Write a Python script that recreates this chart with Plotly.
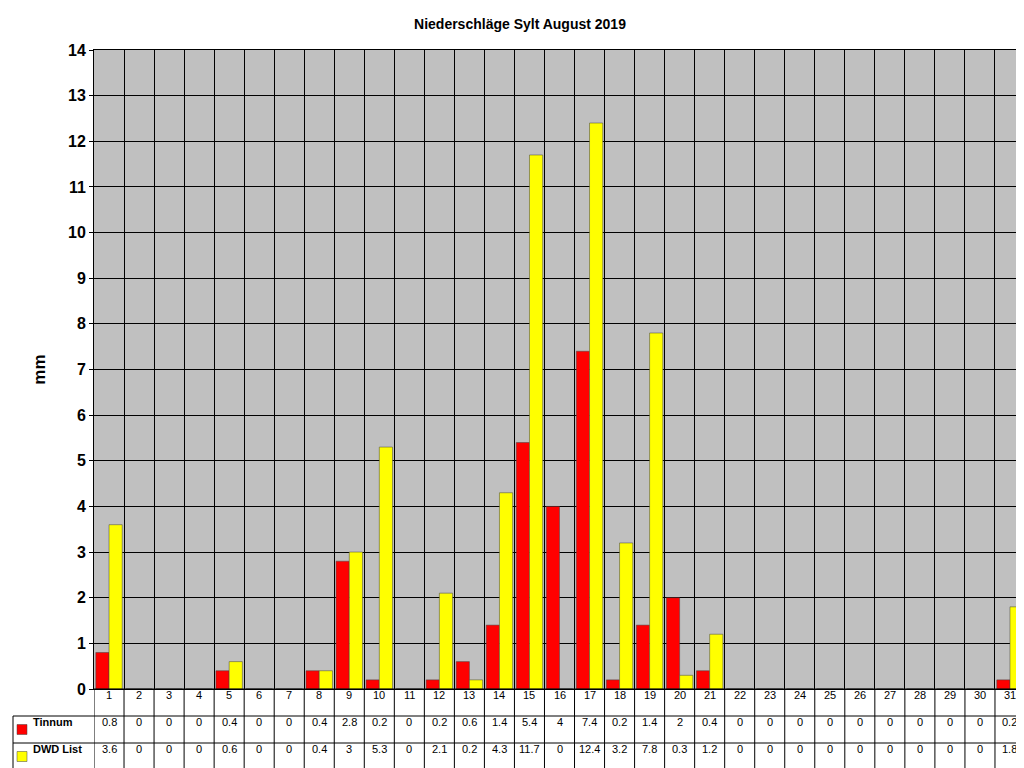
import plotly.graph_objects as go

# Daily precipitation, Sylt, August 2019
days = list(range(1, 32))
tinnum = [0.8, 0, 0, 0, 0.4, 0, 0, 0.4, 2.8, 0.2, 0, 0.2, 0.6, 1.4, 5.4, 4,
          7.4, 0.2, 1.4, 2, 0.4, 0, 0, 0, 0, 0, 0, 0, 0, 0, 0.2]
dwd_list = [3.6, 0, 0, 0, 0.6, 0, 0, 0.4, 3, 5.3, 0, 2.1, 0.2, 4.3, 11.7, 0,
            12.4, 3.2, 7.8, 0.3, 1.2, 0, 0, 0, 0, 0, 0, 0, 0, 0, 1.8]
series = [("Tinnum", tinnum, "#FF0000"), ("DWD List", dwd_list, "#FFFF00")]

FONT = "Liberation Sans, Arial, sans-serif"
L, R, T, B = 86, 7, 42, 87
W, H = 1024, 768
ph = H - T - B
pw = W - L - R

def py(p):  # pixel y -> paper y
    return (H - B - p) / ph

def px(p):  # pixel x -> paper x
    return (p - L) / pw

fig = go.Figure()
for name, vals, col in series:
    fig.add_trace(go.Bar(x=days, y=vals, name=name, marker_color=col,
                         marker_line_color="#404040", marker_line_width=0.5))

shapes, annos = [], []
rows = [681, 708, 735, 762]
for r in rows:
    x0 = 0.5 if r == 681 else None
    shapes.append(dict(type="line", xref="paper", yref="paper",
                       x0=px(5) if r != 681 else 0, x1=1, y0=py(r), y1=py(r),
                       line=dict(color="black", width=1)))
shapes.append(dict(type="line", xref="paper", yref="paper", x0=px(5), x1=px(5),
                   y0=py(708), y1=py(762), line=dict(color="black", width=1)))
for b in range(32):
    shapes.append(dict(type="line", xref="x", yref="paper", x0=b + 0.5, x1=b + 0.5,
                       y0=py(681), y1=py(762), line=dict(color="black", width=1)))

for d in days:
    annos.append(dict(x=d, y=py(694.5), xref="x", yref="paper", text=str(d),
                      showarrow=False, font=dict(size=11, family=FONT, color="black")))
for i, (name, vals, col) in enumerate(series):
    yc = py(721.5 + 27 * i)
    for d, v in zip(days, vals):
        annos.append(dict(x=d, y=yc, xref="x", yref="paper", text=f"{v:g}",
                          showarrow=False, font=dict(size=11, family=FONT, color="black")))
    shapes.append(dict(type="rect", xref="paper", yref="paper", x0=px(9), x1=px(19),
                       y0=yc - 5 / ph, y1=yc + 5 / ph, fillcolor=col,
                       line=dict(color="#404040", width=0.5)))
    annos.append(dict(x=px(23), y=yc, xref="paper", yref="paper", text=f"<b>{name}</b>",
                      xanchor="left", showarrow=False,
                      font=dict(size=11, family=FONT, color="black")))

fig.update_layout(
    width=W, height=H, margin=dict(l=L, r=R, t=T, b=B),
    paper_bgcolor="white", plot_bgcolor="#C0C0C0",
    title=dict(text="<b>Niederschläge Sylt August 2019</b>", x=0.5, y=0.985,
               font=dict(size=14, family=FONT, color="black")),
    barmode="group", bargap=0.12, bargroupgap=0, showlegend=False,
    xaxis=dict(range=[0.5, 31.5], tick0=0.5, dtick=1, showticklabels=False,
               showgrid=True, gridcolor="black", gridwidth=1, zeroline=False,
               showline=True, linecolor="black", mirror=True, ticks=""),
    yaxis=dict(range=[0, 14], dtick=1, showgrid=True, gridcolor="black", gridwidth=1,
               zeroline=False, showline=True, linecolor="black", mirror=True,
               ticks="outside", ticklen=4, tickcolor="black",
               tickfont=dict(size=16, family=FONT, color="black"),
               title=dict(text="<b>mm</b>", standoff=18,
                          font=dict(size=17, family=FONT, color="black"))),
    shapes=shapes, annotations=annos,
)
fig.update_yaxes(tickprefix="<b>", ticksuffix="</b>")

fig.write_html("out.html")
